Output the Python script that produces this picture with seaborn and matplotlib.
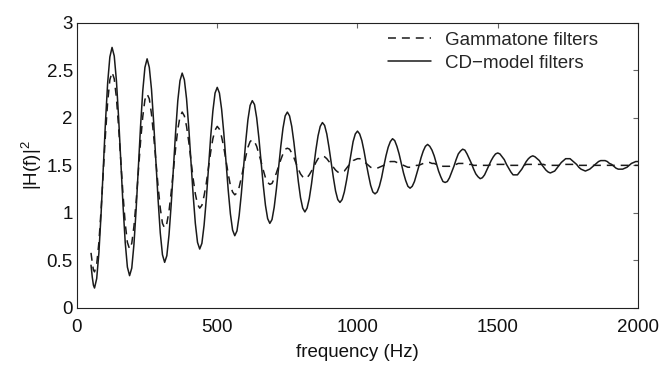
import matplotlib
matplotlib.use("Agg")
import matplotlib.pyplot as plt
import seaborn as sns

# Frequency samples (Hz)
freq = [50.0, 54.7, 58.6,
        62.5, 70.3, 78.1, 85.9, 93.8, 101.6, 109.4, 117.2,
        125, 132.8, 140.6, 148.4, 156.2, 164.1, 171.9, 179.7,
        187.5, 195.3, 203.1, 210.9, 218.8, 226.6, 234.4, 242.2,
        250, 257.8, 265.6, 273.4, 281.2, 289.1, 296.9, 304.7,
        312.5, 320.3, 328.1, 335.9, 343.8, 351.6, 359.4, 367.2,
        375, 382.8, 390.6, 398.4, 406.2, 414.1, 421.9, 429.7,
        437.5, 445.3, 453.1, 460.9, 468.8, 476.6, 484.4, 492.2,
        500, 507.8, 515.6, 523.4, 531.2, 539.1, 546.9, 554.7,
        562.5, 570.3, 578.1, 585.9, 593.8, 601.6, 609.4, 617.2,
        625, 632.8, 640.6, 648.4, 656.2, 664.1, 671.9, 679.7,
        687.5, 695.3, 703.1, 710.9, 718.8, 726.6, 734.4, 742.2,
        750, 757.8, 765.6, 773.4, 781.2, 789.1, 796.9, 804.7,
        812.5, 820.3, 828.1, 835.9, 843.8, 851.6, 859.4, 867.2,
        875, 882.8, 890.6, 898.4, 906.2, 914.1, 921.9, 929.7,
        937.5, 945.3, 953.1, 960.9, 968.8, 976.6, 984.4, 992.2,
        1000, 1007.8, 1015.6, 1023.4, 1031.2, 1039.1, 1046.9, 1054.7,
        1062.5, 1070.3, 1078.1, 1085.9, 1093.8, 1101.6, 1109.4, 1117.2,
        1125, 1132.8, 1140.6, 1148.4, 1156.2, 1164.1, 1171.9, 1179.7,
        1187.5, 1195.3, 1203.1, 1210.9, 1218.8, 1226.6, 1234.4, 1242.2,
        1250, 1257.8, 1265.6, 1273.4, 1281.2, 1289.1, 1296.9, 1304.7,
        1312.5, 1320.3, 1328.1, 1335.9, 1343.8, 1351.6, 1359.4, 1367.2,
        1375, 1382.8, 1390.6, 1398.4, 1406.2, 1414.1, 1421.9, 1429.7,
        1437.5, 1445.3, 1453.1, 1460.9, 1468.8, 1476.6, 1484.4, 1492.2,
        1500, 1507.8, 1515.6, 1523.4, 1531.2, 1539.1, 1546.9, 1554.7,
        1562.5, 1570.3, 1578.1, 1585.9, 1593.8, 1601.6, 1609.4, 1617.2,
        1625, 1632.8, 1640.6, 1648.4, 1656.2, 1664.1, 1671.9, 1679.7,
        1687.5, 1695.3, 1703.1, 1710.9, 1718.8, 1726.6, 1734.4, 1742.2,
        1750, 1757.8, 1765.6, 1773.4, 1781.2, 1789.1, 1796.9, 1804.7,
        1812.5, 1820.3, 1828.1, 1835.9, 1843.8, 1851.6, 1859.4, 1867.2,
        1875, 1882.8, 1890.6, 1898.4, 1906.2, 1914.1, 1921.9, 1929.7,
        1937.5, 1945.3, 1953.1, 1960.9, 1968.8, 1976.6, 1984.4, 1992.2,
        2000]

# |H(f)|^2 of the Gammatone filters (dashed)
gammatone = [0.58, 0.47, 0.40,
             0.38, 0.46, 0.69, 1.03, 1.43, 1.83, 2.17, 2.40,
             2.48, 2.41, 2.21, 1.90, 1.55, 1.19, 0.89, 0.69,
             0.62, 0.68, 0.86, 1.12, 1.43, 1.75, 2.01, 2.19,
             2.25, 2.20, 2.04, 1.81, 1.54, 1.28, 1.05, 0.89,
             0.84, 0.89, 1.02, 1.22, 1.45, 1.68, 1.88, 2.01,
             2.06, 2.02, 1.91, 1.75, 1.56, 1.36, 1.20, 1.09,
             1.05, 1.08, 1.18, 1.31, 1.48, 1.64, 1.78, 1.87,
             1.91, 1.88, 1.80, 1.69, 1.55, 1.41, 1.29, 1.22,
             1.19, 1.21, 1.27, 1.37, 1.48, 1.59, 1.69, 1.75,
             1.77, 1.75, 1.70, 1.62, 1.54, 1.45, 1.37, 1.32,
             1.30, 1.31, 1.36, 1.42, 1.49, 1.56, 1.62, 1.67,
             1.68, 1.67, 1.63, 1.58, 1.52, 1.46, 1.41, 1.38,
             1.36, 1.37, 1.40, 1.44, 1.48, 1.53, 1.57, 1.59,
             1.60, 1.59, 1.57, 1.54, 1.51, 1.48, 1.45, 1.43,
             1.42, 1.43, 1.44, 1.47, 1.50, 1.52, 1.55, 1.56,
             1.57, 1.57, 1.56, 1.54, 1.52, 1.50, 1.48, 1.47,
             1.47, 1.47, 1.48, 1.49, 1.50, 1.52, 1.53, 1.54,
             1.54, 1.54, 1.53, 1.52, 1.51, 1.50, 1.49, 1.48,
             1.48, 1.48, 1.49, 1.50, 1.50, 1.51, 1.52, 1.53,
             1.53, 1.53, 1.52, 1.52, 1.51, 1.50, 1.50, 1.49,
             1.49, 1.49, 1.49, 1.50, 1.50, 1.51, 1.52, 1.52,
             1.52, 1.52, 1.52, 1.51, 1.51, 1.50, 1.50, 1.50,
             1.50, 1.50, 1.50, 1.50, 1.50, 1.51, 1.51, 1.51,
             1.51, 1.51, 1.51, 1.51, 1.50, 1.50, 1.50, 1.50,
             1.50, 1.50, 1.50, 1.50, 1.50, 1.51, 1.51, 1.51,
             1.51, 1.51, 1.51, 1.51, 1.51, 1.51, 1.50, 1.50,
             1.50, 1.50, 1.50, 1.50, 1.50, 1.51, 1.51, 1.51,
             1.51, 1.51, 1.51, 1.51, 1.50, 1.50, 1.50, 1.50,
             1.50, 1.50, 1.50, 1.50, 1.50, 1.50, 1.50, 1.50,
             1.50, 1.50, 1.50, 1.50, 1.50, 1.50, 1.50, 1.50,
             1.50, 1.50, 1.50, 1.50, 1.50, 1.50, 1.50, 1.50,
             1.50]

# |H(f)|^2 of the CD-model filters (solid)
cd_model = [0.45, 0.32, 0.24,
            0.21, 0.31, 0.58, 0.99, 1.48, 1.96, 2.37, 2.64,
            2.74, 2.65, 2.39, 2.00, 1.54, 1.08, 0.69, 0.43,
            0.34, 0.42, 0.67, 1.04, 1.48, 1.91, 2.28, 2.53,
            2.62, 2.53, 2.30, 1.95, 1.55, 1.14, 0.79, 0.56,
            0.48, 0.55, 0.77, 1.09, 1.47, 1.85, 2.18, 2.39,
            2.47, 2.40, 2.20, 1.90, 1.55, 1.19, 0.89, 0.69,
            0.62, 0.68, 0.87, 1.14, 1.47, 1.80, 2.07, 2.26,
            2.32, 2.26, 2.09, 1.84, 1.54, 1.24, 0.99, 0.82,
            0.76, 0.81, 0.97, 1.20, 1.47, 1.75, 1.98, 2.13,
            2.18, 2.14, 2.00, 1.79, 1.54, 1.29, 1.08, 0.94,
            0.89, 0.93, 1.06, 1.25, 1.48, 1.70, 1.89, 2.02,
            2.06, 2.02, 1.91, 1.74, 1.54, 1.33, 1.16, 1.05,
            1.01, 1.05, 1.15, 1.30, 1.48, 1.66, 1.81, 1.91,
            1.95, 1.92, 1.83, 1.69, 1.53, 1.37, 1.23, 1.14,
            1.11, 1.14, 1.22, 1.34, 1.48, 1.62, 1.75, 1.83,
            1.86, 1.83, 1.76, 1.65, 1.52, 1.40, 1.29, 1.22,
            1.20, 1.22, 1.28, 1.37, 1.49, 1.60, 1.69, 1.75,
            1.78, 1.76, 1.70, 1.62, 1.52, 1.42, 1.34, 1.28,
            1.26, 1.28, 1.33, 1.41, 1.49, 1.58, 1.65, 1.70,
            1.72, 1.70, 1.66, 1.60, 1.52, 1.44, 1.38, 1.33,
            1.32, 1.33, 1.37, 1.43, 1.49, 1.56, 1.62, 1.65,
            1.67, 1.66, 1.62, 1.57, 1.52, 1.46, 1.41, 1.38,
            1.36, 1.37, 1.40, 1.45, 1.50, 1.55, 1.59, 1.62,
            1.63, 1.62, 1.59, 1.56, 1.51, 1.47, 1.43, 1.40,
            1.40, 1.40, 1.43, 1.46, 1.50, 1.54, 1.57, 1.59,
            1.60, 1.59, 1.57, 1.55, 1.51, 1.48, 1.45, 1.43,
            1.42, 1.43, 1.44, 1.47, 1.50, 1.53, 1.55, 1.57,
            1.57, 1.57, 1.55, 1.53, 1.51, 1.48, 1.46, 1.45,
            1.44, 1.45, 1.46, 1.48, 1.50, 1.52, 1.54, 1.55,
            1.55, 1.55, 1.54, 1.52, 1.51, 1.49, 1.47, 1.46,
            1.46, 1.46, 1.47, 1.48, 1.50, 1.52, 1.53, 1.54,
            1.54]

x_ticks = [0, 500, 1000, 1500, 2000]
y_ticks = [0, 0.5, 1, 1.5, 2, 2.5, 3]
y_tick_labels = ['0', '0.5', '1', '1.5', '2', '2.5', '3']
series_labels = ['Gammatone filters', 'CD\u2212model filters']

sns.set_style("white")
plt.rcParams['font.family'] = ['Liberation Sans', 'DejaVu Sans']
plt.rcParams['mathtext.fontset'] = 'custom'
plt.rcParams['mathtext.rm'] = 'Liberation Sans'
plt.rcParams['mathtext.it'] = 'Liberation Sans'

fig = plt.figure(figsize=(6.62, 3.65), dpi=100)
ax = fig.add_axes([0.1163, 0.1562, 0.8474, 0.7816])
sns.lineplot(x=freq, y=gammatone, ax=ax, color='#1a1a1a', lw=1.1,
             linestyle=(0, (5.2, 3.9)), label=series_labels[0])
sns.lineplot(x=freq, y=cd_model, ax=ax, color='#1a1a1a', lw=1.1, label=series_labels[1])

ax.set_xlim(0, 2000)
ax.set_ylim(0, 3)
ax.set_xticks(x_ticks)
ax.set_yticks(y_ticks)
ax.set_yticklabels(y_tick_labels)
ax.tick_params(direction='in', top=True, right=True, length=3.6, width=0.8,
               color='#666666', labelsize=13.5, labelcolor='#111111')
ax.tick_params(axis='x', pad=8)
ax.tick_params(axis='y', pad=3)
for s in ax.spines.values():
    s.set_color('#222222')
    s.set_linewidth(0.8)
ax.set_xlabel('frequency (Hz)', fontsize=13.5, color='#111111', labelpad=6)
ax.set_ylabel('|H(f)|$^2$', fontsize=13.5, color='#111111', labelpad=2)
ax.legend(loc='upper right', bbox_to_anchor=(0.929, 0.968), frameon=False, fontsize=13.5,
          handlelength=2.3, handletextpad=0.75, labelspacing=0.3, borderpad=0, borderaxespad=0)
fig.savefig("out.png", dpi=100)
